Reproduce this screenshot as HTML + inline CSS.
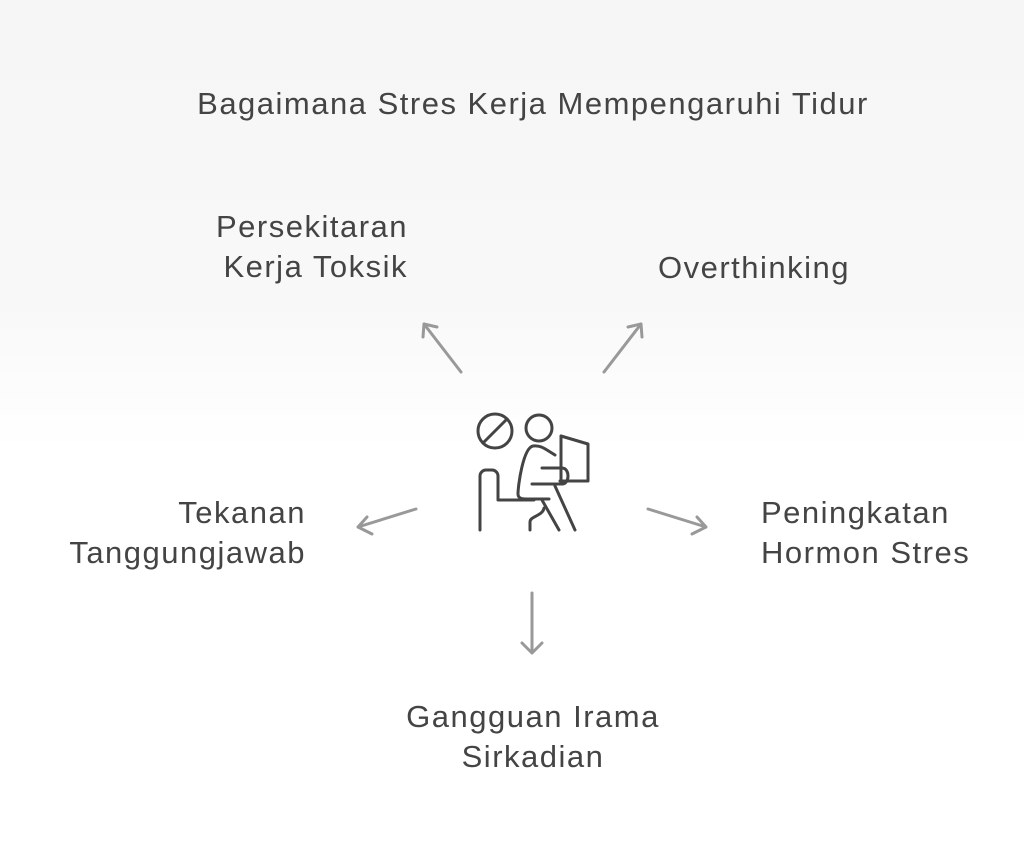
<!DOCTYPE html>
<html><head><meta charset="utf-8"><style>
html,body{margin:0;padding:0}
body{width:1024px;height:861px;position:relative;overflow:hidden;background:linear-gradient(#f6f6f6 0px,#f8f8f8 300px,#fff 450px,#fff 861px);font-family:"Liberation Sans",sans-serif;color:#444}
.t{position:absolute;font-size:31px;letter-spacing:1.5px;line-height:40px;white-space:nowrap}
</style></head><body>
<div class="t" style="left:0;width:1066px;text-align:center;top:84px">Bagaimana Stres Kerja Mempengaruhi Tidur</div>
<div class="t" style="left:100px;width:308px;text-align:right;top:207px">Persekitaran<br>Kerja Toksik</div>
<div class="t" style="left:658px;top:248px">Overthinking</div>
<div class="t" style="left:0px;width:306px;text-align:right;top:493px">Tekanan<br>Tanggungjawab</div>
<div class="t" style="left:761px;top:493px">Peningkatan<br>Hormon Stres</div>
<div class="t" style="left:330px;width:406px;text-align:center;top:697px">Gangguan Irama<br>Sirkadian</div>
<svg width="1024" height="861" style="position:absolute;left:0;top:0" fill="none">
<g stroke="#999" stroke-width="3" stroke-linecap="round" stroke-linejoin="round">
<path d="M461 372L424 324M423 337L424 324L437 327"/>
<path d="M604 372L641 324M628 327L641 324L642 337"/>
<path d="M648 509L706 527M692 534L706 527L697 517"/>
<path d="M532 593L532 653M522 643L532 653L542 643"/>
<path d="M416 509L358 527M367 517L358 527L372 534"/>
</g>
<g stroke="#444" stroke-width="3" stroke-linecap="round" stroke-linejoin="round">
<circle cx="495" cy="431" r="17"/><path d="M483 443L507 419"/>
<circle cx="539" cy="428" r="13"/>
<path d="M480 530V476a6 6 0 0 1 6-6h6a6 6 0 0 1 6 6V500h36"/>
<path d="M561 436l27 8v37h-28"/>
<path d="M555 455c-10-6-14-10-22-9c-10 2-15 40-15 48c0 5 5 5 10 5h21"/>
<path d="M532 484h30c8 0 8-16 0-16h-20"/>
<path d="M530 530v-8c0-6 13-6 14-14"/>
<path d="M542 500l17 30M555 486l20 44"/>
<path d="M561 436v45"/>
</g>
</svg>
</body></html>
